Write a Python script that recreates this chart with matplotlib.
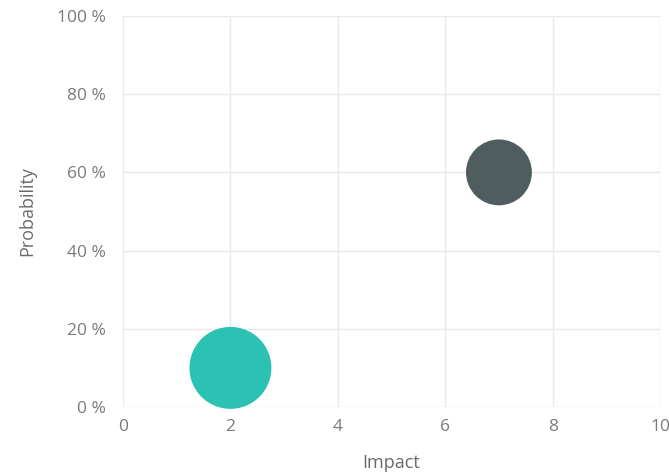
import matplotlib.pyplot as plt
from matplotlib.ticker import FuncFormatter

# Risk bubbles: impact vs probability, bubble area = size
impact = [2, 7]
probability = [10, 60]
bubble_size = [3480, 2250]
colors = ['#2BC1B3', '#505D5F']

x_ticks = [0, 2, 4, 6, 8, 10]
y_ticks = [0, 20, 40, 60, 80, 100]

plt.rcParams['font.family'] = ['Open Sans', 'DejaVu Sans']

fig = plt.figure(figsize=(6.69, 4.74), dpi=100)
ax = fig.add_axes([0.1839, 0.1414, 0.8027, 0.8249])

ax.scatter(impact, probability, s=bubble_size, c=colors, linewidths=0,
           zorder=3, clip_on=False)

ax.set_xlim(0, 10)
ax.set_ylim(0, 100)
ax.set_xticks(x_ticks)
ax.set_yticks(y_ticks)
ax.yaxis.set_major_formatter(FuncFormatter(lambda v, p: f'{v:.0f} %'))

# light grid, no frame
ax.grid(True, color='#E9E9E9', linewidth=1)
ax.set_axisbelow(True)
for s in ax.spines.values():
    s.set_visible(False)
ax.tick_params(axis='both', length=0, labelsize=12.5, labelcolor='#7A7A7A')
ax.tick_params(axis='y', pad=12)
ax.tick_params(axis='x', pad=9)

ax.set_xlabel('Impact', fontsize=13, color='#6A6A6A', labelpad=13)
ax.set_ylabel('Probability', fontsize=13, color='#6A6A6A', labelpad=15)

fig.savefig('out.png', dpi=100)
